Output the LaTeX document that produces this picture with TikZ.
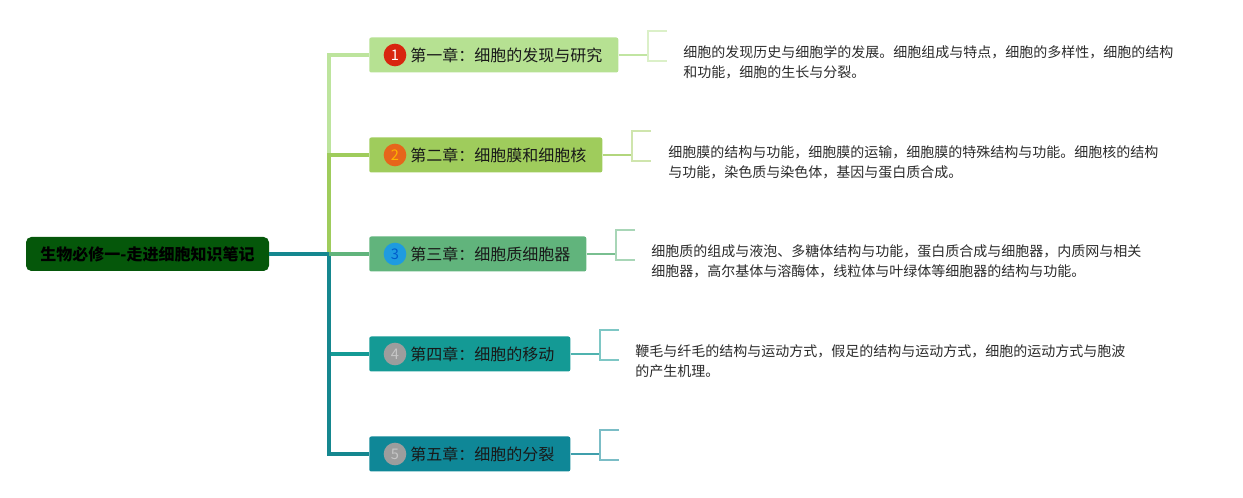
\documentclass[tikz,border=0pt]{standalone}
\usepackage{fontspec}
\setmainfont{Noto Sans CJK SC}
\usepackage{tikz}
\usetikzlibrary{positioning,calc}
\definecolor{rootgreen}{HTML}{05570A}
\definecolor{cone}{HTML}{B6E192}
\definecolor{ctwo}{HTML}{9FCC5C}
\definecolor{cthree}{HTML}{61B47C}
\definecolor{cfour}{HTML}{149A95}
\definecolor{cfive}{HTML}{0F8797}
\definecolor{trunkteal}{HTML}{15878F}
\definecolor{redball}{HTML}{D8250F}
\definecolor{orangeball}{HTML}{E6661B}
\definecolor{blueball}{HTML}{1E9BE0}
\definecolor{grayball}{HTML}{9D9D9D}
\definecolor{descgray}{HTML}{2B2B2B}

\begin{document}
\begin{tikzpicture}[x=0.75pt, y=-0.75pt,
    rootbox/.style={rectangle, rounded corners=4pt, fill=rootgreen, minimum width=182.25pt,
      minimum height=25.5pt, font=\fontsize{12}{14}\selectfont\bfseries, text=black},
    chbox/.style={rectangle, rounded corners=1.5pt, minimum height=26.25pt, anchor=west},
    chtext/.style={anchor=west, inner sep=0pt, font=\fontsize{12}{14}\selectfont, text=black!90},
    ball/.style={circle, inner sep=0pt, minimum size=17pt, font=\fontsize{11}{12}\selectfont},
    desc/.style={anchor=west, inner sep=0pt, align=left, text=descgray,
      font=\fontsize{10.5}{15}\selectfont},
    trunk/.style={line width=2.6pt},
    twig/.style={line width=1.5pt},
    brk/.style={line width=1.1pt}]
    \useasboundingbox (0,0) rectangle (1243,498);

    % root and fork
    \node[rootbox] (root) at (147.5,254) {生物必修一-走进细胞知识笔记};
    \coordinate (fork) at (329,254);

    % chapters
    \node[chbox, fill=cone, minimum width=186.75pt] (ch1) at (369,55) {};
    \node[chbox, fill=ctwo, minimum width=174.75pt] (ch2) at (369,155) {};
    \node[chbox, fill=cthree, minimum width=162.75pt] (ch3) at (369,254) {};
    \node[chbox, fill=cfour, minimum width=150.75pt] (ch4) at (369,354) {};
    \node[chbox, fill=cfive, minimum width=150.75pt] (ch5) at (369,454) {};

    \node[ball, fill=redball, text=white] (n1) at (395,55) {1};
    \node[ball, fill=orangeball, text=orange!60!yellow] (n2) at (395,155) {2};
    \node[ball, fill=blueball, text=blue!55!cyan!80!black] (n3) at (395,254) {3};
    \node[ball, fill=grayball, text=gray!45] (n4) at (395,354) {4};
    \node[ball, fill=grayball, text=gray!45] (n5) at (395,454) {5};

    \node[chtext] (t1) at (410,55) {第一章：细胞的发现与研究};
    \node[chtext] (t2) at (410,155) {第二章：细胞膜和细胞核};
    \node[chtext] (t3) at (410,254) {第三章：细胞质细胞器};
    \node[chtext] (t4) at (410,354) {第四章：细胞的移动};
    \node[chtext] (t5) at (410,454) {第五章：细胞的分裂};

    % branches from the fork
    \draw[trunk, cone!90!white] (fork) |- (ch1.west);
    \draw[trunk, ctwo] (fork) |- (ch2.west);
    \draw[trunk, cfour] (fork) |- (ch4.west);
    \draw[trunk, trunkteal] (fork) |- (ch5.west);
    \draw[trunk, trunkteal] (root.east) -- (fork);
    \draw[trunk, cthree] (fork) -- (ch3.west);

    % brackets
    \coordinate (b1) at (648,55);
    \coordinate (b2) at (632,155);
    \coordinate (b3) at (616,254);
    \coordinate (b4) at (600,354);
    \coordinate (b5) at (600,454);
    \draw[twig, cone!85!white] (ch1.east) -- (b1);
    \draw[twig, ctwo!80!white] (ch2.east) -- (b2);
    \draw[twig, cthree!85!white] (ch3.east) -- (b3);
    \draw[twig, cfour!75!white] (ch4.east) -- (b4);
    \draw[twig, cfive!80!white] (ch5.east) -- (b5);
    \draw[brk, cone!50!white] ([shift={(19,-24)}]b1) -| ([shift={(0,6)}]b1) -- ++(19,0);
    \draw[brk, ctwo!50!white] ([shift={(19,-24)}]b2) -| ([shift={(0,6)}]b2) -- ++(19,0);
    \draw[brk, cthree!55!white] ([shift={(19,-24)}]b3) -| ([shift={(0,6)}]b3) -- ++(19,0);
    \draw[brk, cfour!55!white] ([shift={(19,-24)}]b4) -| ([shift={(0,6)}]b4) -- ++(19,0);
    \draw[brk, cfive!55!white] ([shift={(19,-24)}]b5) -| ([shift={(0,6)}]b5) -- ++(19,0);

    % notes
    \node[desc] (d1) at (683,62) {细胞的发现历史与细胞学的发展。细胞组成与特点，细胞的多样性，细胞的结构\\和功能，细胞的生长与分裂。};
    \node[desc] (d2) at (668,162) {细胞膜的结构与功能，细胞膜的运输，细胞膜的特殊结构与功能。细胞核的结构\\与功能，染色质与染色体，基因与蛋白质合成。};
    \node[desc] (d3) at (651,261) {细胞质的组成与液泡、多糖体结构与功能，蛋白质合成与细胞器，内质网与相关\\细胞器，高尔基体与溶酶体，线粒体与叶绿体等细胞器的结构与功能。};
    \node[desc] (d4) at (635,361) {鞭毛与纤毛的结构与运动方式，假足的结构与运动方式，细胞的运动方式与胞波\\的产生机理。};
\end{tikzpicture}
\end{document}
